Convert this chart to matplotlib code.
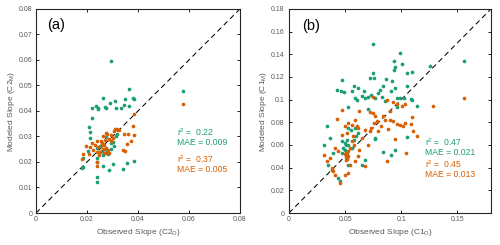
import matplotlib
matplotlib.use("Agg")
import matplotlib.pyplot as plt
import numpy as np

plt.rcParams['font.family'] = ['Liberation Sans', 'DejaVu Sans']
plt.rcParams['mathtext.default'] = 'regular'

GREEN = '#1b9e77'
ORANGE = '#d95f02'

# ---------------- Panel (a) data: C2 ----------------
a_green_x = [0.0293, 0.0366, 0.0382, 0.0384, 0.0264, 0.0291, 0.0311, 0.0348, 0.0365, 0.0344,
             0.0332, 0.0315, 0.0272, 0.0275, 0.0221, 0.0235, 0.0242, 0.0245, 0.0221, 0.0206,
             0.0212, 0.0210, 0.0275, 0.0312, 0.0294, 0.0303, 0.0307, 0.0238, 0.0203, 0.0186,
             0.0182, 0.0185, 0.0238, 0.0238, 0.0262, 0.0287, 0.0302, 0.0355, 0.0384, 0.0340,
             0.0239, 0.0238, 0.0257, 0.0265, 0.0280, 0.0283, 0.0270, 0.0250, 0.0262, 0.0295,
             0.0318, 0.0578]
a_green_y = [0.0597, 0.0486, 0.0452, 0.0448, 0.0450, 0.0433, 0.0440, 0.0445, 0.0418, 0.0422,
             0.0413, 0.0411, 0.0417, 0.0411, 0.0412, 0.0418, 0.0409, 0.0413, 0.0374, 0.0339,
             0.0319, 0.0295, 0.0297, 0.0300, 0.0273, 0.0277, 0.0264, 0.0256, 0.0245, 0.0215,
             0.0177, 0.0182, 0.0217, 0.0199, 0.0184, 0.0169, 0.0194, 0.0195, 0.0204, 0.0172,
             0.0143, 0.0123, 0.0244, 0.0237, 0.0240, 0.0232, 0.0251, 0.0262, 0.0228, 0.0250,
             0.0310, 0.0480]

a_orange_x = [0.0384, 0.0379, 0.0386, 0.0362, 0.0344, 0.0355, 0.0371, 0.0342, 0.0349, 0.0310,
              0.0318, 0.0326, 0.0306, 0.0294, 0.0275, 0.0278, 0.0264, 0.0255, 0.0239, 0.0221,
              0.0196, 0.0210, 0.0225, 0.0232, 0.0244, 0.0257, 0.0267, 0.0276, 0.0262, 0.0250,
              0.0270, 0.0282, 0.0287, 0.0247, 0.0186, 0.0182, 0.0209, 0.0238, 0.0294, 0.0285,
              0.0300, 0.0238, 0.0238, 0.0578, 0.0260, 0.0270]
a_orange_y = [0.0387, 0.0342, 0.0305, 0.0310, 0.0309, 0.0269, 0.0281, 0.0247, 0.0243, 0.0330,
              0.0330, 0.0326, 0.0322, 0.0306, 0.0315, 0.0309, 0.0300, 0.0282, 0.0282, 0.0273,
              0.0263, 0.0258, 0.0247, 0.0268, 0.0260, 0.0266, 0.0266, 0.0253, 0.0250, 0.0240,
              0.0234, 0.0248, 0.0234, 0.0228, 0.0230, 0.0211, 0.0230, 0.0238, 0.0282, 0.0292,
              0.0293, 0.0200, 0.0183, 0.0426, 0.0275, 0.0285]

# ---------------- Panel (b) data: C1 ----------------
b_green_x = [0.0746, 0.0745, 0.0760, 0.0725, 0.0469, 0.0425, 0.0463, 0.0490, 0.0582, 0.0612,
             0.0565, 0.0588, 0.0603, 0.0671, 0.0647, 0.0677, 0.0707, 0.0731, 0.0766, 0.0796,
             0.0811, 0.0841, 0.0862, 0.0826, 0.0856, 0.0523, 0.0701, 0.0336, 0.0369, 0.0315,
             0.0395, 0.0469, 0.0499, 0.0529, 0.0484, 0.0469, 0.0558, 0.0514, 0.0766, 0.0351,
             0.0380, 0.0440, 0.0455, 0.0529, 0.0618, 0.0677, 0.0588, 0.0529, 0.0550, 0.0600,
             0.0580, 0.0650, 0.0989, 0.1004, 0.0936, 0.0942, 0.0939, 0.1055, 0.1099, 0.0915,
             0.0945, 0.0909, 0.0959, 0.0989, 0.1025, 0.1084, 0.1096, 0.1055, 0.1138, 0.0959,
             0.1049, 0.0945, 0.0909, 0.1560, 0.1257, 0.0840, 0.0770, 0.0505, 0.0495, 0.0520]
b_green_y = [0.1494, 0.1236, 0.1192, 0.1192, 0.1177, 0.1089, 0.1080, 0.1068, 0.1118, 0.1103,
             0.1074, 0.1015, 0.1000, 0.1074, 0.1030, 0.1015, 0.1021, 0.1044, 0.1015, 0.1059,
             0.1089, 0.1118, 0.1186, 0.1021, 0.0991, 0.0936, 0.0921, 0.0765, 0.0662, 0.0603,
             0.0530, 0.0633, 0.0618, 0.0603, 0.0574, 0.0530, 0.0574, 0.0486, 0.0662, 0.0427,
             0.0383, 0.0309, 0.0285, 0.0427, 0.0706, 0.0471, 0.0750, 0.0750, 0.0730, 0.0680,
             0.0640, 0.0420, 0.1412, 0.1318, 0.1339, 0.1288, 0.1265, 0.1238, 0.1244, 0.1162,
             0.1103, 0.1074, 0.1015, 0.1015, 0.1015, 0.1006, 0.0994, 0.1118, 0.0941, 0.0933,
             0.0671, 0.0559, 0.0515, 0.1339, 0.1300, 0.0540, 0.0650, 0.0600, 0.0560, 0.0640]

b_orange_x = [0.0469, 0.0624, 0.0425, 0.0588, 0.0722, 0.0751, 0.0766, 0.0781, 0.0856, 0.0841,
              0.0499, 0.0529, 0.0558, 0.0603, 0.0618, 0.0677, 0.0722, 0.0469, 0.0514, 0.0573,
              0.0647, 0.0315, 0.0336, 0.0365, 0.0380, 0.0395, 0.0410, 0.0455, 0.0505, 0.0515,
              0.0525, 0.0510, 0.0520, 0.0498, 0.0530, 0.0508, 0.0618, 0.0588, 0.0544, 0.0529,
              0.0499, 0.0677, 0.0870, 0.0410, 0.0440, 0.0558, 0.0544, 0.0924, 0.0959, 0.1004,
              0.1034, 0.1280, 0.1560, 0.0900, 0.0930, 0.0959, 0.0989, 0.1019, 0.1034, 0.1084,
              0.1102, 0.1138, 0.1093, 0.0945, 0.1043, 0.0820, 0.0880, 0.0790, 0.0760, 0.0730,
              0.0750, 0.0870, 0.0900, 0.0580, 0.0620, 0.0700]
b_orange_y = [0.0912, 0.0897, 0.0830, 0.0824, 0.0891, 0.0883, 0.0853, 0.0809, 0.0824, 0.0853,
              0.0765, 0.0794, 0.0780, 0.0765, 0.0750, 0.0736, 0.0721, 0.0691, 0.0706, 0.0677,
              0.0662, 0.0515, 0.0456, 0.0486, 0.0397, 0.0368, 0.0339, 0.0265, 0.0490, 0.0510,
              0.0500, 0.0530, 0.0480, 0.0520, 0.0545, 0.0470, 0.0500, 0.0456, 0.0427, 0.0353,
              0.0339, 0.0412, 0.0456, 0.0574, 0.0545, 0.0633, 0.0574, 0.0980, 0.0957, 0.0941,
              0.0965, 0.0947, 0.1015, 0.0824, 0.0809, 0.0786, 0.0780, 0.0765, 0.0794, 0.0786,
              0.0721, 0.0677, 0.0844, 0.0653, 0.0530, 0.0770, 0.0740, 0.0720, 0.0790, 0.0750,
              0.1020, 0.1000, 0.0900, 0.0600, 0.0560, 0.0600]

a_stats = [("r$^2$ =  0.22", "MAE = 0.009"), ("r$^2$ =  0.37", "MAE = 0.005")]
b_stats = [("r$^2$ =  0.47", "MAE = 0.021"), ("r$^2$ =  0.45", "MAE = 0.013")]

a_xticks = [0, 0.02, 0.04, 0.06, 0.08]
a_yticks = [0, 0.01, 0.02, 0.03, 0.04, 0.05, 0.06, 0.07, 0.08]
b_xticks = [0, 0.05, 0.1, 0.15]
b_yticks = [0, 0.02, 0.04, 0.06, 0.08, 0.1, 0.12, 0.14, 0.16, 0.18]

fig = plt.figure(figsize=(5, 2.45), dpi=100)
ax_a = fig.add_axes([0.072, 0.1306, 0.408, 0.833])
ax_b = fig.add_axes([0.578, 0.1306, 0.404, 0.833])

TICKC = '#595959'


def style(ax, lim, xt, yt, xl, yl, ypad):
    ax.set_xlim(0, lim)
    ax.set_ylim(0, lim)
    ax.set_xticks(xt)
    ax.set_yticks(yt)
    ax.set_xticklabels(['%g' % v for v in xt])
    ax.set_yticklabels(['%g' % v for v in yt])
    ax.tick_params(direction='in', length=2.2, width=0.6, top=True, right=True,
                   labelsize=5, labelcolor=TICKC)
    ax.tick_params(axis='x', pad=2.5)
    ax.tick_params(axis='y', pad=ypad)
    for s in ax.spines.values():
        s.set_linewidth(0.8)
        s.set_color('#262626')
    ax.set_xlabel(xl, fontsize=6, color=TICKC, labelpad=2.5)
    ax.set_ylabel(yl, fontsize=6, color=TICKC, labelpad=1)
    ax.plot([0, lim], [0, lim], linestyle=(0, (5, 3.5)), color='black', lw=0.75, zorder=1)


style(ax_a, 0.08, a_xticks, a_yticks, 'Observed Slope (C2$_{O}$)', 'Modeled Slope (C2$_{M}$)', 2.5)
style(ax_b, 0.18, b_xticks, b_yticks, 'Observed Slope (C1$_{O}$)', 'Modeled Slope (C1$_{M}$)', 3.5)

for ax, gx, gy, ox, oy in [(ax_a, a_green_x, a_green_y, a_orange_x, a_orange_y),
                          (ax_b, b_green_x, b_green_y, b_orange_x, b_orange_y)]:
    ax.scatter(gx, gy, s=7, color=GREEN, linewidths=0, zorder=2)
    ax.scatter(ox, oy, s=7, color=ORANGE, linewidths=0, zorder=3)

ax_a.text(0.0043, 0.0737, '(a)', fontsize=10.5, va='center', ha='left')
ax_b.text(0.0113, 0.165, '(b)', fontsize=10.5, va='center', ha='left')

# stats text
for ax, stats, x, ys in [(ax_a, a_stats, 0.0554, [0.0315, 0.0277, 0.0212, 0.0171]),
                         (ax_b, b_stats, 0.1212, [0.0627, 0.0530, 0.0432, 0.0340])]:
    ax.text(x, ys[0], stats[0][0], color=GREEN, fontsize=6.2, va='center', ha='left')
    ax.text(x, ys[1], stats[0][1], color=GREEN, fontsize=6.2, va='center', ha='left')
    ax.text(x, ys[2], stats[1][0], color=ORANGE, fontsize=6.2, va='center', ha='left')
    ax.text(x, ys[3], stats[1][1], color=ORANGE, fontsize=6.2, va='center', ha='left')

fig.savefig('out.png', dpi=100)
